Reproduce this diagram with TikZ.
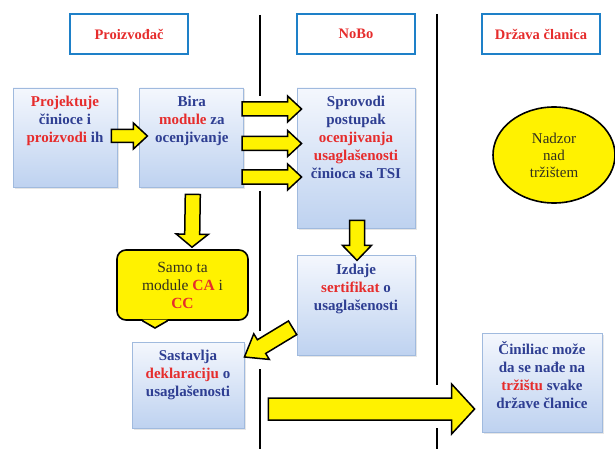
\documentclass[tikz,border=0pt]{standalone}
\usepackage{fontspec}
\setmainfont{Liberation Serif}
\usepackage{tikz}
\usetikzlibrary{shapes,positioning,shadows,calc}
\usepackage{xcolor}
\definecolor{cablue}{RGB}{46,62,146}
\definecolor{cared}{RGB}{230,44,44}
\definecolor{caframe}{RGB}{30,128,200}
\definecolor{caedge}{RGB}{160,186,222}
\definecolor{catop}{RGB}{244,247,253}
\definecolor{cabottom}{RGB}{190,210,240}
\definecolor{cayellow}{RGB}{255,242,0}
\definecolor{cadark}{RGB}{50,48,30}
\tikzstyle{header} = [rectangle, minimum width=118, minimum height=40, draw=caframe, line width=1.6pt, fill=white, text=cared, font=\fontsize{14.5}{17}\selectfont\bfseries]
\tikzstyle{stage} = [rectangle, inner sep=0pt, draw=caedge, line width=0.8pt, top color=catop, bottom color=cabottom, drop shadow={opacity=0.2, shadow xshift=1.5pt, shadow yshift=-1.5pt}, text=cablue, font=\fontsize{15}{18}\selectfont\bfseries]
\tikzstyle{callbox} = [rectangle, rounded corners=9pt, minimum width=131, minimum height=70, draw=black, line width=1.6pt, fill=cayellow, text=cadark, align=center, font=\fontsize{15.5}{18}\selectfont]
\tikzstyle{market} = [ellipse, minimum width=122, minimum height=96, draw=black, line width=1.6pt, fill=cayellow, text=cadark, align=center, font=\fontsize{15}{17}\selectfont]
\tikzstyle{yarrow} = [draw=black, fill=cayellow, line width=1.5pt, line join=miter]
\tikzstyle{divider} = [line width=2pt]
\newcommand{\redword}[1]{\textcolor{cared}{#1}}
\newcommand{\stagetext}[2]{\parbox[c][#1pt][t]{104pt}{\centering\vspace*{8pt}#2}}
% block arrow: start, end, shaft half width, head half width, head length
\newcommand{\fatarrow}[5]{%
  \draw[yarrow] let \p1=#1, \p2=#2,
    \n1={atan2((\y2)-(\y1),(\x2)-(\x1))}, \n2={veclen((\x2)-(\x1),(\y2)-(\y1))} in
    [shift={(\p1)}, rotate=\n1]
    (0pt,#3pt) -- (\n2-#5pt,#3pt) -- (\n2-#5pt,#4pt) -- (\n2,0pt)
    -- (\n2-#5pt,-#4pt) -- (\n2-#5pt,-#3pt) -- (0pt,-#3pt) -- cycle;}
\begin{document}
\begin{tikzpicture}[x=1pt, y=-1pt]
\useasboundingbox (0,0) rectangle (615,449);
% Headers
\node (hprod) [header] at (129,34) {Proizvođač};
\node (hnobo) [header] at (356,34) {NoBo};
\node (hdrzava) [header] at (541,34) {Država članica};

% Steps
\node (projekt) [stage, minimum width=104, minimum height=99] at (65,137.5) {\stagetext{99}{\redword{Projektuje}\\činioce i\\\redword{proizvodi} ih}};
\node (bira) [stage, minimum width=104, minimum height=99, right=22pt of projekt] {\stagetext{99}{Bira\\\redword{module} za\\ocenjivanje}};
\node (sprovodi) [stage, minimum width=118, minimum height=140] at (356,158) {\stagetext{140}{Sprovodi\\postupak\\\redword{ocenjivanja}\\\redword{usaglašenosti}\\činioca sa TSI}};
\node (izdaje) [stage, minimum width=118, minimum height=100, below=27pt of sprovodi] {\stagetext{100}{Izdaje\\\redword{sertifikat} o\\usaglašenosti}};
\node (sastavlja) [stage, minimum width=112, minimum height=86] at (188,385) {\stagetext{86}{Sastavlja\\\redword{deklaraciju} o\\usaglašenosti}};
\node (ciniliac) [stage, minimum width=120, minimum height=99] at (542,382.5) {\stagetext{99}{Činiliac može\\da se nađe na\\\redword{tržištu} svake\\države članice}};
\node (nadzor) [market] at (554,155) {Nadzor\\nad\\tržištem};

% Callout
\node (samo) [callbox] at (182.5,285) {Samo ta\\module \textbf{\redword{CA}} i\\\textbf{\redword{CC}}};
\coordinate (samotip) at (155,328);
\fill[cayellow] ($(samo.south)+(-40,-1.2)$) -- (samotip) -- ($(samo.south)+(-15,-1.2)$) -- cycle;
\draw[line width=1.6pt, line join=miter] ($(samo.south)+(-40,0)$) -- (samotip) -- ($(samo.south)+(-15,0)$);

% Dividers
\draw[divider] (260,15) -- (260,96);
\draw[divider] (260,191) -- (260,331);
\draw[divider] (260,369) -- (260,449);
\draw[divider] (437,14) -- (437,385);
\draw[divider] (437,428) -- (437,449);

% Block arrows
\fatarrow{($(projekt.east)+(-6,-1.5)$)}{($(bira.west)+(8,-1.5)$)}{6.5}{13}{14}
\foreach \dy in {-28.5,6,39.5}{
  \fatarrow{($(bira.east)+(-2,\dy)$)}{($(sprovodi.west |- bira.east)+(5,\dy)$)}{7}{13}{14}
}
\fatarrow{($(bira.south)+(1,7)$)}{($(samo.north)+(9.5,-2)$)}{7.5}{16}{13}
\fatarrow{($(sprovodi.south)+(1,-8)$)}{($(izdaje.north)+(1,5)$)}{7.5}{14.5}{15}
\fatarrow{($(izdaje.west)+(-4,22)$)}{($(sastavlja.east)+(0,-28)$)}{8}{15}{20}
\fatarrow{($(sastavlja.east)+(24,24)$)}{($(ciniliac.west)+(-7,26.5)$)}{11}{25}{23}
\end{tikzpicture}
\end{document}
